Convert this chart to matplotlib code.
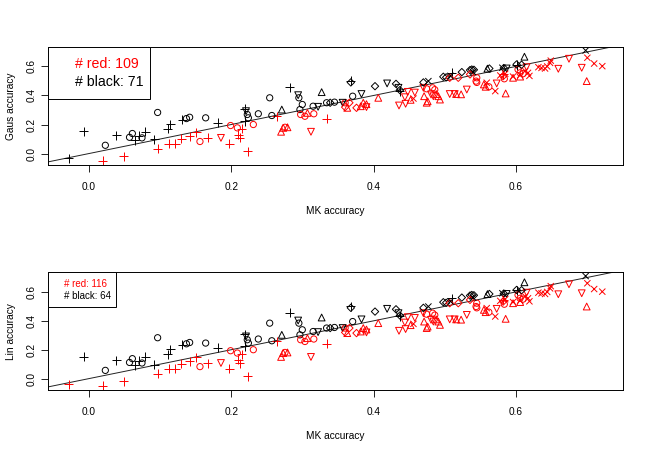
import matplotlib
matplotlib.use("Agg")
import numpy as np
import matplotlib.pyplot as plt

plt.rcParams["font.family"] = ["Liberation Sans", "DejaVu Sans"]

# values: x = MK accuracy, y = Gaus accuracy
# colour strings: k = black (above the line), r = red (below)
plus_mk = [-0.0285, -0.007, 0.038, 0.064, 0.070, 0.079, 0.092, 0.111, 0.114, 0.131,
           0.181, 0.219, 0.219, 0.2825, 0.368, 0.437, 0.510, 0.601,
           0.0197, 0.049, 0.097, 0.112, 0.121, 0.130, 0.1415, 0.151, 0.167, 0.197,
           0.2145, 0.210, 0.212, 0.223, 0.264, 0.334, 0.582]
plus_gaus = [-0.034, 0.152, 0.126, 0.092, 0.124, 0.150, 0.097, 0.170, 0.202, 0.234,
             0.212, 0.308, 0.223, 0.457, 0.500, 0.430, 0.556, 0.610,
             -0.048, -0.018, 0.034, 0.067, 0.069, 0.103, 0.119, 0.147, 0.108, 0.069,
             0.170, 0.131, 0.108, 0.016, 0.257, 0.240, 0.545]
plus_lin = [-0.040] + plus_gaus[1:]
plus_col_gaus = "k" * 18 + "r" * 17
plus_col_lin = "r" + "k" * 17 + "r" * 17

circle_mk = [0.023, 0.057, 0.061, 0.0745, 0.0965, 0.137, 0.1415, 0.164, 0.2225, 0.224,
             0.238, 0.254, 0.257, 0.295, 0.2965, 0.2998, 0.315, 0.334, 0.345, 0.3706,
             0.156, 0.199, 0.2085, 0.231, 0.2755, 0.2975, 0.3035, 0.316, 0.360, 0.4745,
             0.483, 0.486, 0.545, 0.545, 0.544, 0.562, 0.5837, 0.603, 0.6058, 0.610]
circle_gaus = [0.057, 0.112, 0.138, 0.108, 0.283, 0.241, 0.250, 0.246, 0.269, 0.246,
               0.274, 0.384, 0.262, 0.384, 0.303, 0.338, 0.326, 0.350, 0.354, 0.395,
               0.083, 0.193, 0.177, 0.200, 0.181, 0.269, 0.257, 0.274, 0.350, 0.446,
               0.453, 0.440, 0.522, 0.490, 0.499, 0.460, 0.515, 0.579, 0.556, 0.550]
circle_col = "k" * 20 + "r" * 20

tri_up_mk = [0.271, 0.327, 0.612, 0.560,
             0.270, 0.273, 0.279, 0.307, 0.363, 0.382, 0.3855, 0.390, 0.4066, 0.452,
             0.471, 0.4746, 0.476, 0.491, 0.4933, 0.488, 0.516, 0.523, 0.555, 0.5575,
             0.5856, 0.596, 0.606, 0.6995]
tri_up_gaus = [0.303, 0.423, 0.667, 0.585,
               0.150, 0.177, 0.181, 0.280, 0.315, 0.326, 0.350, 0.340, 0.384, 0.370,
               0.395, 0.350, 0.360, 0.395, 0.372, 0.410, 0.410, 0.408, 0.476, 0.460,
               0.414, 0.522, 0.530, 0.499]
tri_up_col = "k" * 4 + "r" * 24

tri_down_mk = [0.2207, 0.294, 0.322, 0.3565, 0.383, 0.419, 0.435, 0.587,
               0.1855, 0.312, 0.4357, 0.445, 0.444, 0.448, 0.458, 0.390, 0.470, 0.4807,
               0.484, 0.507, 0.514, 0.531, 0.573, 0.615, 0.6596, 0.6746, 0.6925]
tri_down_gaus = [0.292, 0.402, 0.322, 0.350, 0.410, 0.483, 0.453, 0.586,
                 0.108, 0.150, 0.331, 0.343, 0.388, 0.425, 0.420, 0.320, 0.453, 0.407,
                 0.395, 0.410, 0.410, 0.441, 0.483, 0.595, 0.584, 0.653, 0.591]
tri_down_col = "k" * 8 + "r" * 19

diamond_mk = [0.339, 0.368, 0.402, 0.4315, 0.437, 0.470, 0.498, 0.502, 0.524, 0.5355,
              0.541, 0.538, 0.5627, 0.583, 0.601, 0.608,
              0.360, 0.366, 0.376, 0.507, 0.519, 0.5355, 0.582]
diamond_gaus = [0.350, 0.490, 0.464, 0.480, 0.437, 0.490, 0.529, 0.525, 0.561, 0.575,
                0.577, 0.579, 0.586, 0.589, 0.614, 0.612,
                0.320, 0.350, 0.315, 0.522, 0.522, 0.545, 0.533]
diamond_col = "k" * 16 + "r" * 7

cross_mk = [0.477, 0.508, 0.540, 0.581, 0.698,
            0.456, 0.559, 0.571, 0.578, 0.585, 0.596, 0.606, 0.613, 0.617, 0.619,
            0.6316, 0.636, 0.641, 0.644, 0.648, 0.649, 0.7004, 0.710, 0.7214]
cross_gaus = [0.499, 0.535, 0.560, 0.591, 0.710,
              0.379, 0.488, 0.430, 0.538, 0.550, 0.530, 0.540, 0.569, 0.556, 0.535,
              0.595, 0.590, 0.586, 0.600, 0.625, 0.640, 0.660, 0.620, 0.602]
cross_col = "k" * 5 + "r" * 19

legend_gaus = ["# red: 109", "# black: 71"]
legend_lin = ["# red: 116", "# black: 64"]

COLORS = {"k": "black", "r": "#ff0000"}
# (marker, size, x, y_gaus, y_lin, colours_gaus, colours_lin)
SHAPES = [
    ("+", 42, plus_mk, plus_gaus, plus_lin, plus_col_gaus, plus_col_lin),
    ("o", 20, circle_mk, circle_gaus, circle_gaus, circle_col, circle_col),
    ("^", 24, tri_up_mk, tri_up_gaus, tri_up_gaus, tri_up_col, tri_up_col),
    ("v", 24, tri_down_mk, tri_down_gaus, tri_down_gaus, tri_down_col, tri_down_col),
    ("D", 14, diamond_mk, diamond_gaus, diamond_gaus, diamond_col, diamond_col),
    ("x", 20, cross_mk, cross_gaus, cross_gaus, cross_col, cross_col),
]


def draw_panel(ax, which, ylabel, legend_text, legend_size, box_w, box_h):
    for marker, size, xs, yg, yl, cg, cl in SHAPES:
        ys = yg if which == "gaus" else yl
        cols = cg if which == "gaus" else cl
        c = [COLORS[ch] for ch in cols]
        if marker in ("+", "x"):
            ax.scatter(xs, ys, marker=marker, s=size, c=c, linewidths=0.7, zorder=3)
        else:
            ax.scatter(xs, ys, marker=marker, s=size, facecolors="none",
                       edgecolors=c, linewidths=0.7, zorder=3)
    ax.axline((0, 0), slope=1, color="#222222", lw=0.7, zorder=2)

    ax.set_xlim(-0.058, 0.7505)
    ax.set_ylim(-0.079, 0.736)
    ax.set_xticks([0.0, 0.2, 0.4, 0.6])
    ax.set_yticks([0.0, 0.2, 0.4, 0.6])
    ax.set_xticklabels(["0.0", "0.2", "0.4", "0.6"])
    ax.set_yticklabels(["0.0", "0.2", "0.4", "0.6"], rotation=90, va="center")
    ax.tick_params(labelsize=7.3, length=5, width=0.6)
    ax.tick_params(axis="x", pad=7)
    ax.tick_params(axis="y", pad=2.8)
    ax.set_xlabel("MK accuracy", fontsize=7.3, labelpad=10)
    ax.set_ylabel(ylabel, fontsize=7.3, labelpad=8)
    for sp in ax.spines.values():
        sp.set_linewidth(0.7)

    # legend box in the top-left corner, text only
    box = plt.Rectangle((0, 1 - box_h), box_w, box_h, transform=ax.transAxes,
                        facecolor="white", edgecolor="black", lw=0.7, zorder=4)
    ax.add_patch(box)
    tx = box_w * 0.27 if legend_size > 9 else box_w * 0.24
    ax.text(tx, 1 - box_h * 0.33, legend_text[0], color="#ff0000",
            fontsize=legend_size, transform=ax.transAxes, va="center", zorder=5)
    ax.text(tx, 1 - box_h * 0.68, legend_text[1], color="black",
            fontsize=legend_size, transform=ax.transAxes, va="center", zorder=5)


fig = plt.figure(figsize=(6.48, 4.5), dpi=100)
ax1 = fig.add_axes([0.0736, 0.6333, 0.8878, 0.2629])
ax2 = fig.add_axes([0.0736, 0.1333, 0.8878, 0.2616])

draw_panel(ax1, "gaus", "Gaus accuracy", legend_gaus, 10.2, 102 / 575.3, 52.6 / 118.3)
draw_panel(ax2, "lin", "Lin accuracy", legend_lin, 7.0, 68 / 575.3, 35 / 117.7)

fig.savefig("out.png", dpi=100)
